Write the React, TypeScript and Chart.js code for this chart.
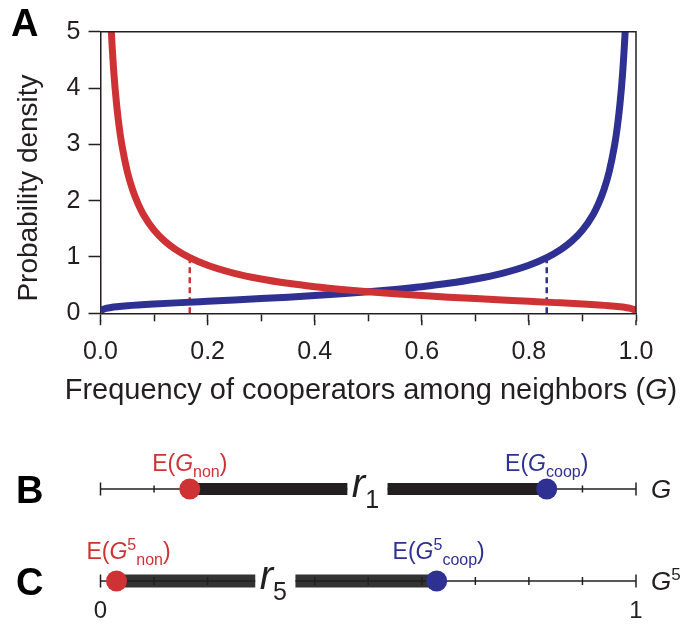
import React, { useEffect, useRef } from 'react';
import { Chart, registerables } from 'chart.js';
Chart.register(...registerables);

const RED = '#cf3234';
const BLUE = '#2e3192';
const INK = '#231f20';
const FAM = '"Liberation Sans", Arial, sans-serif';

// Panel A: density of G for non-cooperators (red) and cooperators (blue)
const nonX = [0.018, 0.02, 0.025, 0.03, 0.035, 0.04, 0.05, 0.06, 0.07, 0.08, 0.1, 0.12, 0.14, 0.1667, 0.2, 0.25, 0.3, 0.35, 0.4, 0.45, 0.5, 0.55, 0.6, 0.65, 0.7, 0.75, 0.8, 0.85, 0.9, 0.95, 0.97, 0.98, 0.99, 0.995, 1.0];
const nonY = [5.46, 5.045, 4.264, 3.713, 3.301, 2.985, 2.518, 2.19, 1.946, 1.756, 1.477, 1.281, 1.135, 0.988, 0.853, 0.71, 0.609, 0.532, 0.472, 0.423, 0.381, 0.346, 0.315, 0.2865, 0.2608, 0.2366, 0.2132, 0.1896, 0.1641, 0.1325, 0.1148, 0.103, 0.0859, 0.072, 0.04];
const coopX = [0, 0.005, 0.01, 0.02, 0.03, 0.05, 0.1, 0.15, 0.2, 0.25, 0.3, 0.35, 0.4, 0.45, 0.5, 0.55, 0.6, 0.65, 0.7, 0.75, 0.8, 0.8333, 0.86, 0.88, 0.9, 0.92, 0.93, 0.94, 0.95, 0.96, 0.965, 0.97, 0.975, 0.98, 0.982];
const coopY = [0.04, 0.072, 0.0859, 0.103, 0.1148, 0.1325, 0.1641, 0.1896, 0.2132, 0.2366, 0.2608, 0.2865, 0.315, 0.346, 0.381, 0.423, 0.472, 0.532, 0.609, 0.71, 0.853, 0.988, 1.135, 1.281, 1.477, 1.756, 1.946, 2.19, 2.518, 2.985, 3.301, 3.713, 4.264, 5.045, 5.46];
const meanNon = 0.1667;
const meanCoop = 0.8333;
const densityAtMean = 0.988;
const xMajorTicks = [0, 0.2, 0.4, 0.6, 0.8, 1.0];

// Panel B: E(G)
const bNon = 0.1667;
const bCoop = 0.8333;
const bGap = [0.461, 0.536];
// Panel C: E(G^5)
const cNon = 0.0299;
const cCoop = 0.6278;
const cGap = [0.289, 0.364];
const lineTicks = [0.1, 0.2, 0.3, 0.4, 0.5, 0.6, 0.7, 0.8, 0.9];
const lineEnds = [0, 1];
const cTickLabels = ['0', '1'];

type Part = { t: string; font: string; color: string; dy?: number };
function drawParts(ctx: CanvasRenderingContext2D, parts: Part[], x: number, y: number, align: 'left' | 'center') {
  ctx.save();
  ctx.textBaseline = 'alphabetic';
  ctx.textAlign = 'left';
  const widths = parts.map((p) => {
    ctx.font = p.font;
    return ctx.measureText(p.t).width;
  });
  const total = widths.reduce((a, b) => a + b, 0);
  let cx = align === 'center' ? x - total / 2 : x;
  parts.forEach((p, i) => {
    ctx.font = p.font;
    ctx.fillStyle = p.color;
    ctx.fillText(p.t, cx, y + (p.dy || 0));
    cx += widths[i];
  });
  ctx.restore();
}

const f = (size: number, style = '') => `${style} ${size}px ${FAM}`.trim();

function cfgA(): any {
  const pts = (xs: number[], ys: number[]) => xs.map((x, i) => ({ x, y: ys[i] }));
  const decor = {
    id: 'decorA',
    afterDraw(chart: any) {
      const { ctx, chartArea: ca, scales } = chart;
      ctx.save();
      ctx.strokeStyle = INK;
      ctx.lineWidth = 1.5;
      ctx.beginPath();
      ctx.moveTo(ca.left, ca.top);
      ctx.lineTo(ca.right, ca.top);
      ctx.lineTo(ca.right, ca.bottom);
      ctx.stroke();
      // longer major ticks
      ctx.beginPath();
      xMajorTicks.forEach((v) => {
        const px = scales.x.getPixelForValue(v);
        ctx.moveTo(px, ca.bottom + 7);
        ctx.lineTo(px, ca.bottom + 12);
      });
      ctx.stroke();
      ctx.restore();
      drawParts(ctx, [
        { t: 'Frequency of cooperators among neighbors (', font: f(29), color: INK },
        { t: 'G', font: f(29, 'italic'), color: INK },
        { t: ')', font: f(29), color: INK },
      ], 371, 399, 'center');
      ctx.save();
      ctx.translate(37, 188);
      ctx.rotate(-Math.PI / 2);
      drawParts(ctx, [{ t: 'Probability density', font: f(28), color: INK }], 0, 0, 'center');
      ctx.restore();
      drawParts(ctx, [{ t: 'A', font: f(38, 'bold'), color: '#000' }], 11, 36, 'left');
    },
  };
  return {
    type: 'scatter',
    data: {
      datasets: [
        { data: pts(nonX, nonY), showLine: true, borderColor: RED, borderWidth: 7, pointRadius: 0, cubicInterpolationMode: 'monotone', clip: 0 },
        { data: pts(coopX, coopY), showLine: true, borderColor: BLUE, borderWidth: 7, pointRadius: 0, cubicInterpolationMode: 'monotone', clip: 0 },
        { data: [{ x: meanNon, y: 0 }, { x: meanNon, y: densityAtMean }], showLine: true, borderColor: RED, borderWidth: 2.5, borderDash: [6, 4], pointRadius: 0 },
        { data: [{ x: meanCoop, y: 0 }, { x: meanCoop, y: densityAtMean }], showLine: true, borderColor: BLUE, borderWidth: 2.5, borderDash: [6, 4], pointRadius: 0 },
      ],
    },
    options: {
      responsive: false,
      animation: false,
      devicePixelRatio: 1,
      layout: { padding: { left: 0, right: 47, top: 31.7, bottom: 0 } },
      plugins: { legend: { display: false }, tooltip: { enabled: false } },
      scales: {
        x: {
          type: 'linear', min: 0, max: 1,
          afterFit: (s: any) => { s.height = 420 - 313.3; },
          grid: { display: true, drawOnChartArea: false, tickLength: 8, tickColor: INK, tickWidth: 1.5, color: INK },
          border: { display: true, color: INK, width: 1.5 },
          ticks: {
            stepSize: 0.1, autoSkip: false, maxRotation: 0, padding: 16, color: INK,
            font: { family: FAM, size: 25 },
            callback: (v: number) => { const k = Math.round(v * 10); return k % 2 === 0 ? (k / 10).toFixed(1) : ''; },
          },
        },
        y: {
          type: 'linear', min: 0, max: 5,
          afterFit: (s: any) => { s.width = 100.5; },
          grid: { display: true, drawOnChartArea: false, tickLength: 12, tickColor: INK, tickWidth: 1.5, color: INK },
          border: { display: true, color: INK, width: 1.5 },
          ticks: { stepSize: 1, padding: 8, color: INK, font: { family: FAM, size: 25 } },
        },
      },
    },
    plugins: [decor],
  };
}

function cfgLine(panel: 'B' | 'C'): any {
  const isB = panel === 'B';
  const eNon = isB ? bNon : cNon;
  const eCoop = isB ? bCoop : cCoop;
  const gap = isB ? bGap : cGap;
  const ticks = lineTicks.filter((v) => v < gap[0] || v > gap[1]);
  const seg = (a: number, b: number) => [{ x: a, y: 0 }, { x: b, y: 0 }];
  const barColor = isB ? INK : '#333333';
  const decor = {
    id: 'decor' + panel,
    afterDraw(chart: any) {
      const { ctx, scales } = chart;
      const x = scales.x, y = scales.y;
      const y0 = y.getPixelForValue(0);
      const big = f(23), it = f(23, 'italic'), sub = f(16);
      if (isB) {
        drawParts(ctx, [
          { t: 'E(', font: big, color: RED }, { t: 'G', font: it, color: RED },
          { t: 'non', font: sub, color: RED, dy: 6 }, { t: ')', font: big, color: RED },
        ], x.getPixelForValue(eNon), y0 - 18, 'center');
        drawParts(ctx, [
          { t: 'E(', font: big, color: BLUE }, { t: 'G', font: it, color: BLUE },
          { t: 'coop', font: sub, color: BLUE, dy: 6 }, { t: ')', font: big, color: BLUE },
        ], x.getPixelForValue(eCoop), y0 - 18, 'center');
        drawParts(ctx, [
          { t: 'r', font: f(40, 'italic'), color: INK }, { t: '1', font: f(25), color: INK, dy: 11 },
        ], x.getPixelForValue((gap[0] + gap[1]) / 2) - 2, y0 + 8, 'center');
        drawParts(ctx, [{ t: 'G', font: f(26, 'italic'), color: INK }], x.getPixelForValue(1) + 15, y0 + 9, 'left');
        drawParts(ctx, [{ t: 'B', font: f(38, 'bold'), color: '#000' }], 16, y0 + 14, 'left');
      } else {
        drawParts(ctx, [
          { t: 'E(', font: big, color: RED }, { t: 'G', font: it, color: RED },
          { t: '5', font: sub, color: RED, dy: -9 },
          { t: 'non', font: sub, color: RED, dy: 6 }, { t: ')', font: big, color: RED },
        ], x.getPixelForValue(eNon) + 12, y0 - 22, 'center');
        drawParts(ctx, [
          { t: 'E(', font: big, color: BLUE }, { t: 'G', font: it, color: BLUE },
          { t: '5', font: sub, color: BLUE, dy: -9 },
          { t: 'coop', font: sub, color: BLUE, dy: 6 }, { t: ')', font: big, color: BLUE },
        ], x.getPixelForValue(eCoop) + 2, y0 - 22, 'center');
        drawParts(ctx, [
          { t: 'r', font: f(40, 'italic'), color: INK }, { t: '5', font: f(25), color: INK, dy: 11 },
        ], x.getPixelForValue((gap[0] + gap[1]) / 2) - 2, y0 + 8, 'center');
        drawParts(ctx, [
          { t: 'G', font: f(26, 'italic'), color: INK }, { t: '5', font: f(17), color: INK, dy: -10 },
        ], x.getPixelForValue(1) + 15, y0 + 9, 'left');
        drawParts(ctx, [{ t: 'C', font: f(38, 'bold'), color: '#000' }], 16, y0 + 14, 'left');
      }
    },
  };
  const H = isB ? 80 : 104;
  return {
    type: 'scatter',
    data: {
      datasets: [
        { data: [{ x: eNon, y: 0 }], pointRadius: 10.5, pointBackgroundColor: RED, pointBorderWidth: 0, clip: false },
        { data: [{ x: eCoop, y: 0 }], pointRadius: 10.5, pointBackgroundColor: BLUE, pointBorderWidth: 0, clip: false },
        ...(isB
          ? [
              { data: seg(eNon, gap[0]), showLine: true, borderColor: barColor, borderWidth: 12, borderCapStyle: 'butt', pointRadius: 0, clip: false },
              { data: seg(gap[1], eCoop), showLine: true, borderColor: barColor, borderWidth: 12, borderCapStyle: 'butt', pointRadius: 0, clip: false },
            ]
          : []),
        { data: ticks.map((v) => ({ x: v, y: 0 })), pointStyle: 'line', rotation: 90, pointRadius: isB ? 3.5 : 4, pointBorderWidth: 1.5, pointBorderColor: INK, clip: false },
        { data: lineEnds.map((v) => ({ x: v, y: 0 })), pointStyle: 'line', rotation: 90, pointRadius: 6.5, pointBorderWidth: 1.5, pointBorderColor: INK, clip: false },
        { data: seg(0, gap[0]), showLine: true, borderColor: INK, borderWidth: 1.5, pointRadius: 0, clip: false },
        { data: seg(gap[1], 1), showLine: true, borderColor: INK, borderWidth: 1.5, pointRadius: 0, clip: false },
        ...(!isB
          ? [
              { data: seg(eNon, gap[0]), showLine: true, borderColor: barColor, borderWidth: 13, borderCapStyle: 'butt', pointRadius: 0, clip: false },
              { data: seg(gap[1], eCoop), showLine: true, borderColor: barColor, borderWidth: 13, borderCapStyle: 'butt', pointRadius: 0, clip: false },
            ]
          : []),
      ],
    },
    options: {
      responsive: false,
      animation: false,
      devicePixelRatio: 1,
      events: [],
      layout: { padding: { left: 100.5, right: 47, top: isB ? 38 : 50, bottom: isB ? 20 : 0 } },
      plugins: { legend: { display: false }, tooltip: { enabled: false } },
      scales: {
        x: isB
          ? { type: 'linear', min: 0, max: 1, display: false }
          : {
              type: 'linear', min: 0, max: 1, display: true,
              afterFit: (s: any) => { s.height = H - 72; },
              afterBuildTicks: (s: any) => { s.ticks = lineEnds.map((v) => ({ value: v })); },
              grid: { display: false },
              border: { display: false },
              ticks: { padding: -3, color: INK, maxRotation: 0, font: { family: FAM, size: 24 }, callback: (_v: number, i: number) => cTickLabels[i] },
            },
        y: { type: 'linear', min: -1, max: 1, display: false },
      },
    },
    plugins: [decor],
  };
}

export default function App() {
  const aRef = useRef<HTMLCanvasElement>(null);
  const bRef = useRef<HTMLCanvasElement>(null);
  const cRef = useRef<HTMLCanvasElement>(null);
  useEffect(() => {
    const charts = [
      new Chart(aRef.current as HTMLCanvasElement, cfgA()),
      new Chart(bRef.current as HTMLCanvasElement, cfgLine('B')),
      new Chart(cRef.current as HTMLCanvasElement, cfgLine('C')),
    ];
    return () => charts.forEach((c) => c.destroy());
  }, []);
  return (
    <div style={{ position: 'absolute', left: 0, top: 0, width: 683, height: 624, background: '#fff', overflow: 'hidden' }}>
      <canvas ref={aRef} width={683} height={420} style={{ position: 'absolute', left: 0, top: 0, width: 683, height: 420 }} />
      <canvas ref={bRef} width={683} height={80} style={{ position: 'absolute', left: 0, top: 440, width: 683, height: 80 }} />
      <canvas ref={cRef} width={683} height={104} style={{ position: 'absolute', left: 0, top: 520, width: 683, height: 104 }} />
    </div>
  );
}
